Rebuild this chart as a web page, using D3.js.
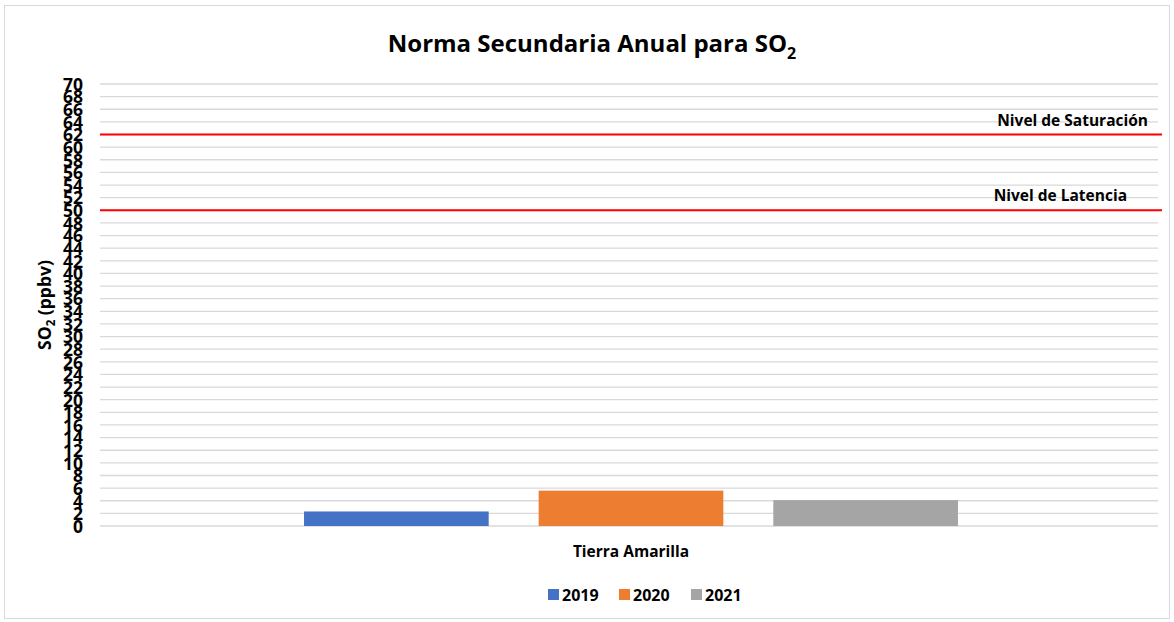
<!DOCTYPE html>
<html><head><meta charset="utf-8">
<script src="https://cdn.jsdelivr.net/npm/d3@7"></script>
<style>body{margin:0;background:#fff}svg{display:block}text{font-family:"Open Sans",sans-serif;font-weight:bold;fill:#000}</style>
</head><body><svg id="c" width="1174" height="622"></svg>
<script>
const categories = ["Tierra Amarilla"];
const seriesNames = ["2019", "2020", "2021"];
const seriesValues = [2.3, 5.6, 4.1];
const seriesColors = ["#4472c4", "#ed7d31", "#a5a5a5"];
const yTicks = d3.range(0, 71, 2);
const refLines = [{name: "Nivel de Saturación", value: 62}, {name: "Nivel de Latencia", value: 50}];

const svg = d3.select("#c");
svg.append("rect").attr("x",4.5).attr("y",5.5).attr("width",1165).attr("height",613)
  .attr("fill","#fff").attr("stroke","#d9d9d9");

const L=100, R=1162, T=84, B=526;
const y = d3.scaleLinear().domain([0,70]).range([B,T]);
const x0 = d3.scaleBand().domain(categories).range([L,R]).paddingInner(0).paddingOuter(0.312);
const x1 = d3.scaleBand().domain(seriesNames).range([0,x0.bandwidth()]).paddingInner(0.213).paddingOuter(0);

// gridlines
svg.append("g").selectAll("line").data(yTicks).join("line")
  .attr("x1",L).attr("x2",R-4).attr("y1",d=>y(d)).attr("y2",d=>y(d))
  .attr("stroke","#d9d9d9").attr("stroke-width",1.3);

// y axis labels
const yAxis = d3.axisLeft(y).tickValues(yTicks).tickSize(0).tickPadding(0);
const ga = svg.append("g").attr("transform",`translate(${L-17},0)`).call(yAxis);
ga.select(".domain").remove();
ga.selectAll("text").attr("font-size",17.5).attr("font-family","Open Sans, sans-serif").attr("font-weight","bold").attr("fill","#000").attr("dy","0.36em")
  .attr("text-anchor","end");

// bars
svg.append("g").selectAll("rect").data(seriesNames).join("rect")
  .attr("x",(d)=>x0(categories[0])+x1(d))
  .attr("width",x1.bandwidth())
  .attr("y",(d,i)=>y(seriesValues[i]))
  .attr("height",(d,i)=>y(0)-y(seriesValues[i]))
  .attr("fill",(d,i)=>seriesColors[i]);

// reference lines
const rl = svg.append("g");
rl.selectAll("line").data(refLines).join("line")
  .attr("x1",L).attr("x2",R).attr("y1",d=>y(d.value)).attr("y2",d=>y(d.value))
  .attr("stroke","#ff0000").attr("stroke-width",2);
rl.selectAll("text").data(refLines).join("text")
  .attr("x",(d,i)=>i===0?1148:1127).attr("y",d=>y(d.value)-9)
  .attr("text-anchor","end").attr("font-size",15.5).text(d=>d.name);

// category label
svg.selectAll(".cat").data(categories).join("text").attr("class","cat")
  .attr("x",d=>x0(d)+x0.bandwidth()/2).attr("y",557).attr("text-anchor","middle")
  .attr("font-size",15.5).text(d=>d);

// title
const t = svg.append("text").attr("x",592).attr("y",52).attr("text-anchor","middle").attr("font-size",24);
t.append("tspan").text("Norma Secundaria Anual para SO");
t.append("tspan").attr("font-size",16).attr("dy",7).text("2");

// y axis title
const yt = svg.append("text").attr("transform","translate(51,305) rotate(-90)").attr("text-anchor","middle").attr("font-size",17.5);
yt.append("tspan").text("SO");
yt.append("tspan").attr("font-size",11.5).attr("dy",4).text("2");
yt.append("tspan").attr("dy",-4).text(" (ppbv)");

// legend
const legX = [548, 619, 691];
const lg = svg.append("g").selectAll("g").data(seriesNames).join("g")
  .attr("transform",(d,i)=>`translate(${legX[i]},589)`);
lg.append("rect").attr("width",11).attr("height",11).attr("fill",(d,i)=>seriesColors[i]);
lg.append("text").attr("x",14).attr("y",12).attr("font-size",16).text(d=>d);
</script></body></html>
